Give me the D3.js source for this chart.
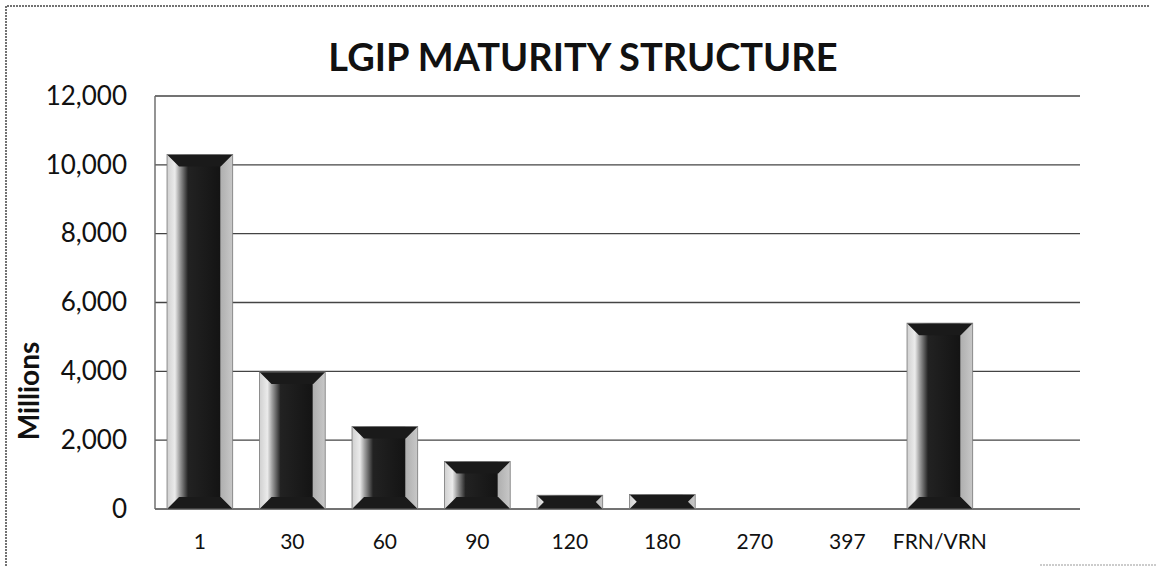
<!doctype html>
<html>
<head>
<meta charset="UTF-8" />
<script src="https://d3js.org/d3.v7.min.js"></script>
<style>
  body { margin: 0; background: #fff; }
  svg { display: block; }
</style>
</head>
<body>
<svg id="chart" width="1157" height="566"></svg>
<script>
// maturity buckets (days) and amounts in millions
const categories = ["1", "30", "60", "90", "120", "180", "270", "397", "FRN/VRN"];
const amounts = [10300, 3980, 2400, 1380, 400, 420, 0, 0, 5400];
const yTicks = [0, 2000, 4000, 6000, 8000, 10000, 12000];

const width = 1157, height = 566;
const plot = { left: 155, right: 1080, top: 96, bottom: 509 };
const step = 92.5;

const svg = d3.select("#chart");
const font = "Lato, 'Open Sans', sans-serif";

// gradient for the bevelled bars: light left face, dark middle, grey right face
const defs = svg.append("defs");
const grad = defs.append("linearGradient").attr("id", "barGrad")
  .attr("x1", "0%").attr("x2", "100%").attr("y1", "0%").attr("y2", "0%");
[["0%", "#d0d0d0"], ["12%", "#ebebeb"], ["19%", "#a0a0a0"], ["32%", "#222"],
 ["80%", "#141414"], ["82%", "#b0b0b0"], ["100%", "#c8c8c8"]]
  .forEach(s => grad.append("stop").attr("offset", s[0]).attr("stop-color", s[1]));

// outer frame (dotted scan look)
svg.append("path")
  .attr("d", `M6,${height} L6,6 L1150,6`)
  .attr("fill", "none").attr("stroke", "#444").attr("stroke-width", 1.5)
  .attr("stroke-dasharray", "2,1");
svg.append("line")
  .attr("x1", 1040).attr("x2", width).attr("y1", 565).attr("y2", 565)
  .attr("stroke", "#999").attr("stroke-width", 1).attr("stroke-dasharray", "2,1");

const x = d3.scaleBand()
  .domain(categories)
  .range([plot.left, plot.left + step * (categories.length - 0.29 + 0.26)])
  .paddingInner(0.29)
  .paddingOuter(0.13);

const y = d3.scaleLinear().domain([0, 12000]).range([plot.bottom, plot.top]);

// gridlines
svg.append("g")
  .selectAll("line")
  .data(yTicks)
  .join("line")
  .attr("x1", plot.left).attr("x2", plot.right)
  .attr("y1", d => y(d)).attr("y2", d => y(d))
  .attr("stroke", "#444").attr("stroke-width", 1.4);

// left edge of plot area
svg.append("line")
  .attr("x1", plot.left).attr("x2", plot.left)
  .attr("y1", plot.top).attr("y2", plot.bottom)
  .attr("stroke", "#666").attr("stroke-width", 1.4);

// y axis labels
const yAxis = d3.axisLeft(y).tickValues(yTicks).tickSize(0).tickPadding(0)
  .tickFormat(d3.format(","));
svg.append("g")
  .attr("transform", "translate(127,0)")
  .call(yAxis)
  .call(g => g.select(".domain").remove())
  .selectAll("text")
  .attr("font-family", font).attr("font-size", 26).attr("fill", "#111");

// x axis labels
const xAxis = d3.axisBottom(x).tickSize(0).tickPadding(0);
svg.append("g")
  .attr("transform", "translate(0,534)")
  .call(xAxis)
  .call(g => g.select(".domain").remove())
  .selectAll("text")
  .attr("font-family", font).attr("font-size", 21).attr("fill", "#111");

// bars
const data = categories.map((c, i) => ({ cat: c, val: amounts[i] }));
const bars = svg.append("g").selectAll("g")
  .data(data.filter(d => d.val > 0))
  .join("g");

bars.append("rect")
  .attr("x", d => x(d.cat))
  .attr("y", d => y(d.val))
  .attr("width", x.bandwidth())
  .attr("height", d => y(0) - y(d.val))
  .attr("fill", "url(#barGrad)");

// top and bottom bevels
bars.append("path")
  .attr("fill", "#1a1a1a")
  .attr("d", d => {
    const x0 = x(d.cat), w = x.bandwidth();
    const t = y(d.val), b = y(0), h = b - t;
    const bv = Math.min(12, h / 2);
    return `M${x0},${t} L${x0 + w},${t} L${x0 + w - bv},${t + bv} L${x0 + bv},${t + bv} Z` +
           `M${x0},${b} L${x0 + w},${b} L${x0 + w - bv},${b - bv} L${x0 + bv},${b - bv} Z`;
  });

bars.append("rect")
  .attr("x", d => x(d.cat))
  .attr("y", d => y(d.val))
  .attr("width", x.bandwidth())
  .attr("height", d => y(0) - y(d.val))
  .attr("fill", "none")
  .attr("stroke", "#777").attr("stroke-width", 0.8);

// title
svg.append("text")
  .attr("x", 583).attr("y", 71)
  .attr("text-anchor", "middle")
  .attr("font-family", font).attr("font-weight", "bold").attr("font-size", 38)
  .attr("fill", "#111")
  .text("LGIP MATURITY STRUCTURE");

// y axis title
svg.append("text")
  .attr("transform", "translate(39,391) rotate(-90)")
  .attr("text-anchor", "middle")
  .attr("font-family", font).attr("font-weight", "bold").attr("font-size", 28)
  .attr("fill", "#111")
  .text("Millions");
</script>
</body>
</html>
